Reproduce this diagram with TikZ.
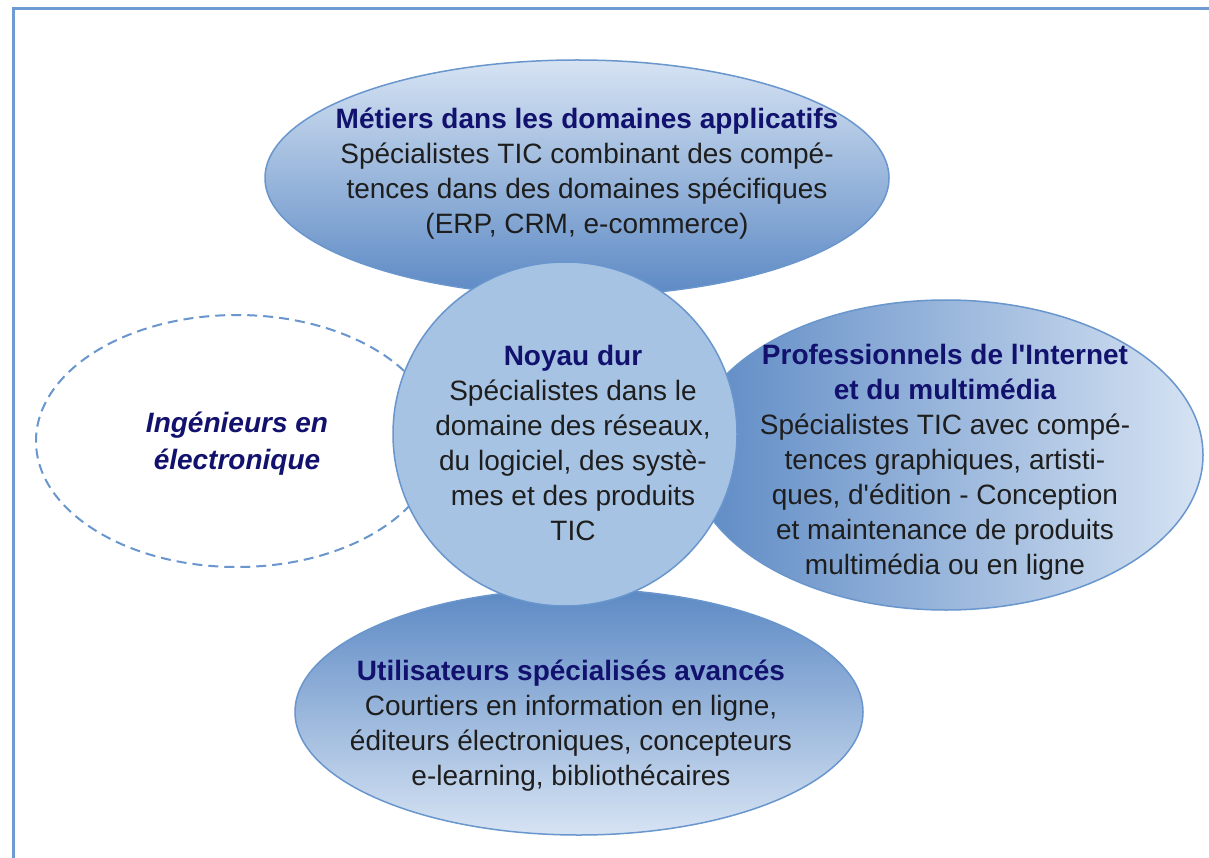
\documentclass[tikz,border=0pt]{standalone}
\usepackage{fontspec}
\setmainfont{Liberation Sans}
\usetikzlibrary{shapes.geometric}

\definecolor{frameblue}{RGB}{109,155,210}
\definecolor{rimblue}{RGB}{105,150,205}
\definecolor{darkfill}{RGB}{92,137,196}
\definecolor{lightfill}{RGB}{214,227,243}
\definecolor{corefill}{RGB}{166,195,227}
\definecolor{titlenavy}{RGB}{18,18,110}
\definecolor{bodygray}{RGB}{30,30,30}

\tikzset{
    bubble/.style={ellipse, draw=rimblue, line width=1.5pt, inner sep=0pt},
    bubbletext/.style={align=center, text=bodygray, font=\fontsize{28}{35}\selectfont},
}
\newcommand{\heading}[1]{{\color{titlenavy}\bfseries #1}}

\begin{document}
\begin{tikzpicture}[x=1pt, y=-1pt]
    %% page and frame
    \useasboundingbox (0,0) rectangle (1209,858);
    \clip (0,0) rectangle (1209,858);
    \fill[white] (0,0) rectangle (1209,858);
    \draw[frameblue, line width=3pt] (13,9) rectangle (1230,880);

    %% outer ellipses
    \node[bubble, minimum width=624pt, minimum height=236pt,
        top color=lightfill, bottom color=darkfill] (metiers) at (577,178) {};
    \node[bubble, minimum width=514pt, minimum height=310pt,
        left color=darkfill, right color=lightfill] (internet) at (946,455) {};
    \node[bubble, minimum width=568pt, minimum height=246pt,
        top color=darkfill, bottom color=lightfill] (utilisateurs) at (579,712) {};
    \node[ellipse, draw=rimblue, line width=2pt, dash pattern=on 10pt off 6pt,
        minimum width=402pt, minimum height=252pt] (ingenieurs) at (237,441) {};

    %% core circle
    \node[circle, draw=rimblue, line width=1.5pt, fill=corefill,
        minimum size=344pt] (noyau) at (565,434) {};

    %% texts
    \node[bubbletext] (metiers-txt) at (587,174)
        {\heading{Métiers dans les domaines applicatifs}\\
         Spécialistes TIC combinant des compé-\\
         tences dans des domaines spécifiques\\
         (ERP, CRM, e-commerce)};
    \node[bubbletext] (noyau-txt) at (573,443)
        {\heading{Noyau dur}\\
         Spécialistes dans le\\
         domaine des réseaux,\\
         du logiciel, des systè-\\
         mes et des produits\\
         TIC};
    \node[bubbletext] (internet-txt) at (945,462)
        {\heading{Professionnels de l\textquotesingle Internet}\\
         \heading{et du multimédia}\\
         Spécialistes TIC avec compé-\\
         tences graphiques, artisti-\\
         ques, d\textquotesingle édition - Conception\\
         et maintenance de produits\\
         multimédia ou en ligne};
    \node[bubbletext] (utilisateurs-txt) at (571,726)
        {\heading{Utilisateurs spécialisés avancés}\\
         Courtiers en information en ligne,\\
         éditeurs électroniques, concepteurs\\
         e-learning, bibliothécaires};
    \node[bubbletext, text=titlenavy, font=\fontsize{28}{37}\selectfont\bfseries\itshape]
        (ingenieurs-txt) at (237,444) {Ingénieurs en\\ électronique};
\end{tikzpicture}
\end{document}
